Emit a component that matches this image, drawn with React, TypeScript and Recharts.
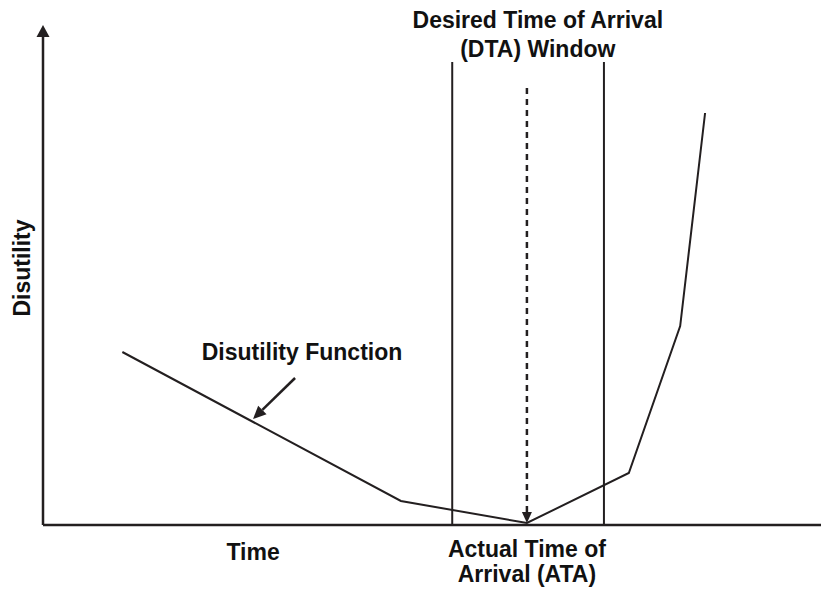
import React from 'react';
import { LineChart, Line, XAxis, YAxis, ReferenceLine, ReferenceDot } from 'recharts';

// disutility curve, time on a 0-100 scale
const timeValues = [10.2, 46.0, 62.2, 75.3, 81.9, 85.1];
const disutilityValues = [34.6, 4.8, 0.4, 10.4, 39.8, 82.4];

// DTA window edges and actual arrival time
const windowStart = 52.6;
const windowEnd = 72.1;
const windowTop = 92.6;
const arrivalTime = 62.2;
const arrivalTop = 87.4;

const data = timeValues.map((t, i) => ({ t, d: disutilityValues[i] }));

const INK = '#231f20';
const FONT = '"Liberation Sans Narrow", "Arial Narrow", "Liberation Sans", Arial, sans-serif';

const textStyle = {
  fontFamily: FONT,
  fontWeight: 700,
  fontSize: 23,
  fill: '#111',
};

// line with an arrow head on its end point
const arrowShape = (len: number, half: number, width: number, dash?: string) => (props: any) => {
  const { x1, y1, x2, y2 } = props;
  const dx = x2 - x1;
  const dy = y2 - y1;
  const l = Math.sqrt(dx * dx + dy * dy) || 1;
  const ux = dx / l;
  const uy = dy / l;
  const bx = x2 - ux * len;
  const by = y2 - uy * len;
  const pts = [
    `${x2},${y2}`,
    `${bx - uy * half},${by + ux * half}`,
    `${bx + uy * half},${by - ux * half}`,
  ].join(' ');
  return (
    <g>
      <line x1={x1} y1={y1} x2={bx} y2={by} stroke={INK} strokeWidth={width} strokeDasharray={dash} />
      <polygon points={pts} fill={INK} />
    </g>
  );
};

const note = (lines: string[], anchor: 'start' | 'middle', step = 26) => (props: any) => (
  <text x={props.cx} y={props.cy} textAnchor={anchor} style={textStyle}>
    {lines.map((s, i) => (
      <tspan key={i} x={props.cx} dy={i === 0 ? 0 : step}>
        {s}
      </tspan>
    ))}
  </text>
);

const rotatedNote = (label: string) => (props: any) => (
  <text
    x={props.cx}
    y={props.cy}
    textAnchor="middle"
    transform={`rotate(-90 ${props.cx} ${props.cy})`}
    style={textStyle}
  >
    {label}
  </text>
);

const App: React.FC = () => {
  return (
    <div style={{ position: 'absolute', left: 0, top: 0, width: 821, height: 592, background: '#fff' }}>
      <LineChart width={821} height={592} data={data} margin={{ top: 25, right: 0, left: 43, bottom: 0 }}>
        <XAxis
          type="number"
          dataKey="t"
          domain={[0, 100]}
          height={67}
          tick={false}
          tickLine={false}
          axisLine={{ stroke: INK, strokeWidth: 2.5 }}
        />
        <YAxis type="number" domain={[0, 100]} hide />

        {/* y axis with arrow */}
        <ReferenceLine
          segment={[{ x: 0, y: 0 }, { x: 0, y: 100 }]}
          shape={arrowShape(12, 6.5, 2.5)}
        />

        {/* DTA window */}
        <ReferenceLine
          segment={[{ x: windowStart, y: 0 }, { x: windowStart, y: windowTop }]}
          stroke={INK}
          strokeWidth={2}
        />
        <ReferenceLine
          segment={[{ x: windowEnd, y: 0 }, { x: windowEnd, y: windowTop }]}
          stroke={INK}
          strokeWidth={2}
        />

        {/* ATA */}
        <ReferenceLine
          segment={[{ x: arrivalTime, y: arrivalTop }, { x: arrivalTime, y: 0.4 }]}
          shape={arrowShape(11, 5, 2.5, '6 5')}
        />

        {/* pointer to the curve */}
        <ReferenceLine
          segment={[{ x: 32.4, y: 29.4 }, { x: 27.0, y: 21.2 }]}
          shape={arrowShape(13, 6, 2.5)}
        />

        <Line
          type="linear"
          dataKey="d"
          stroke={INK}
          strokeWidth={2}
          dot={false}
          activeDot={false}
          isAnimationActive={false}
        />

        <ReferenceDot x={20.4} y={33} r={0} ifOverflow="visible" shape={note(['Disutility Function'], 'start')} />
        <ReferenceDot
          x={63.6}
          y={99.4}
          r={0}
          ifOverflow="visible"
          shape={note(['Desired Time of Arrival', '(DTA) Window'], 'middle', 29)}
        />
        <ReferenceDot
          x={62.2}
          y={-6.4}
          r={0}
          ifOverflow="visible"
          shape={note(['Actual Time of', 'Arrival (ATA)'], 'middle', 25)}
        />
        <ReferenceDot x={27.0} y={-7} r={0} ifOverflow="visible" shape={note(['Time'], 'middle')} />
        <ReferenceDot x={-1.7} y={51.4} r={0} ifOverflow="visible" shape={rotatedNote('Disutility')} />
      </LineChart>
    </div>
  );
};

export default App;
